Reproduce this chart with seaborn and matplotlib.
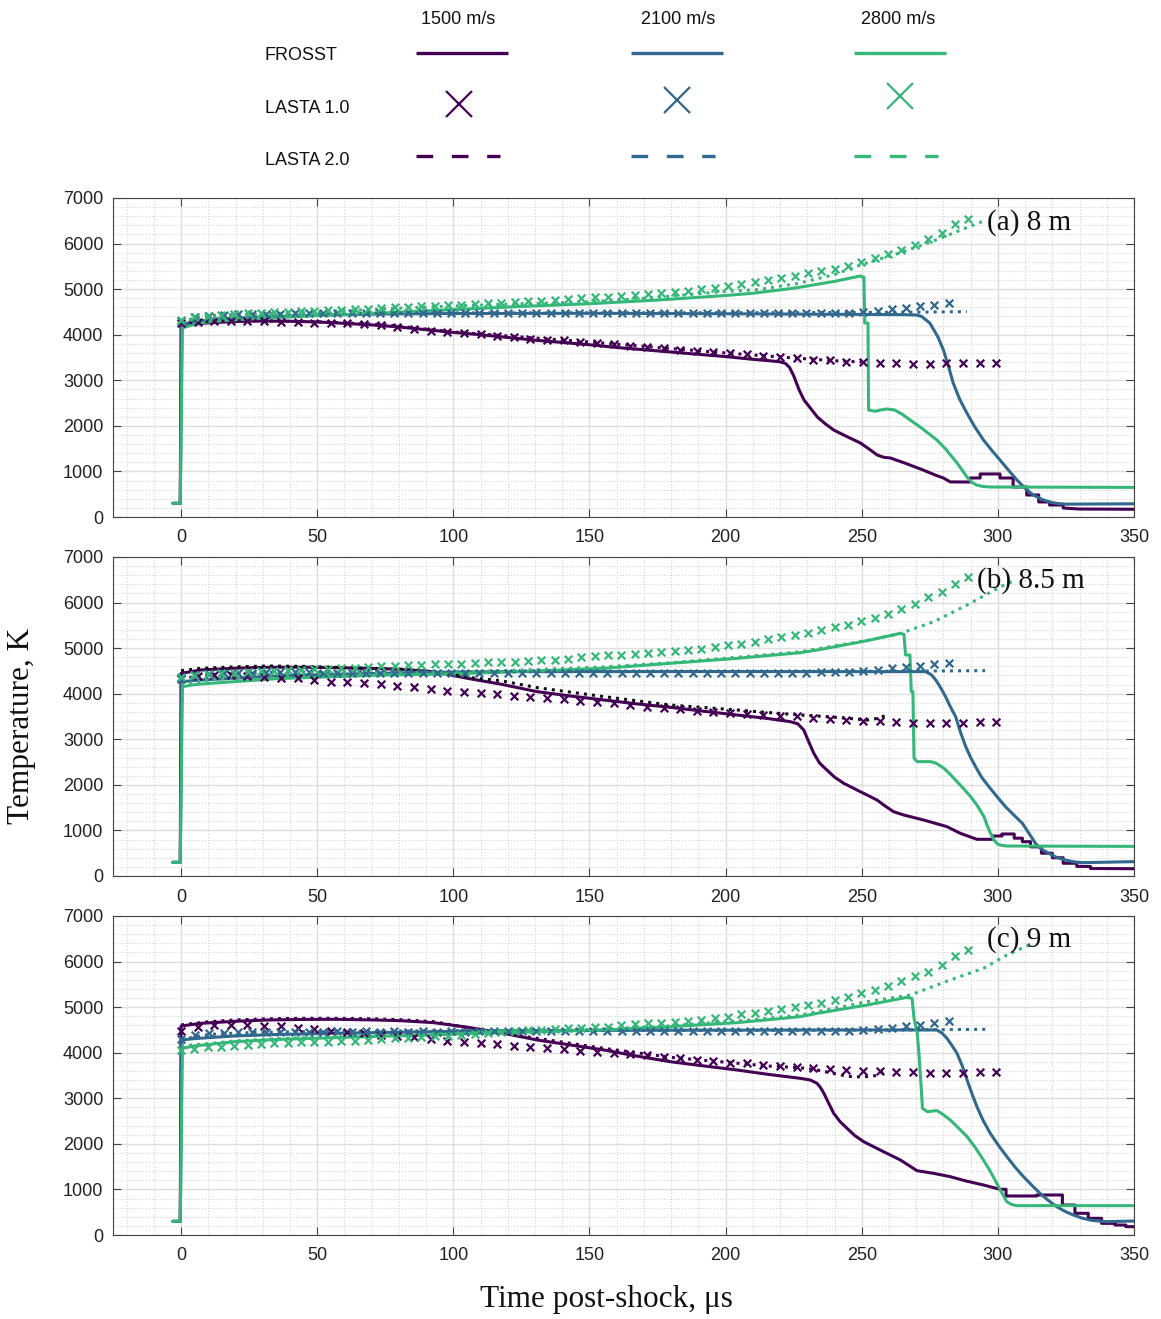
# Post-shock temperature histories: FROSST vs LASTA 1.0 / LASTA 2.0
import matplotlib
matplotlib.use("Agg")
import matplotlib.pyplot as plt
from matplotlib.ticker import MultipleLocator
import seaborn as sns

#================================#
# Data
#================================#
velocities = ['1500 m/s', '2100 m/s', '2800 m/s']
row_names = ['FROSST', 'LASTA 1.0', 'LASTA 2.0']
colors = ['#440154', '#31688e', '#35b779']
panel_labels = ['(a) 8 m', '(b) 8.5 m', '(c) 9 m']

# LASTA 1.0 sample times (us) for each velocity
l1_t_1500 = [0, 6.1, 12.2, 18.3, 24.4, 30.6, 36.7, 42.8, 48.9, 55.0,
             61.1, 67.2, 73.3, 79.4, 85.5, 91.7, 97.8, 103.9, 110.0, 116.1,
             122.2, 128.3, 134.4, 140.5, 146.6, 152.8, 158.9, 165.0, 171.1, 177.2,
             183.3, 189.4, 195.5, 201.6, 207.7, 213.9, 220.0, 226.1, 232.2, 238.3,
             244.4, 250.5, 256.6, 262.7, 268.8, 275.0, 281.1, 287.2, 293.3, 299.4]
l1_t_2100 = [0, 5.2, 10.4, 15.7, 20.9, 26.1, 31.3, 36.5, 41.8, 47.0,
             52.2, 57.4, 62.6, 67.9, 73.1, 78.3, 83.5, 88.7, 94.0, 99.2,
             104.4, 109.6, 114.8, 120.1, 125.3, 130.5, 135.7, 140.9, 146.2, 151.4,
             156.6, 161.8, 167.0, 172.3, 177.5, 182.7, 187.9, 193.1, 198.4, 203.6,
             208.8, 214.0, 219.2, 224.5, 229.7, 234.9, 240.1, 245.3, 250.6, 255.8,
             261.0, 266.2, 271.4, 276.7, 281.9]
l1_t_2800 = [0, 4.9, 9.8, 14.7, 19.6, 24.5, 29.4, 34.3, 39.2, 44.1,
             49.0, 53.9, 58.8, 63.7, 68.6, 73.5, 78.4, 83.3, 88.2, 93.1,
             98.0, 102.9, 107.8, 112.7, 117.6, 122.5, 127.4, 132.3, 137.2, 142.1,
             147.0, 151.9, 156.8, 161.7, 166.6, 171.5, 176.4, 181.3, 186.2, 191.1,
             196.0, 200.9, 205.8, 210.7, 215.6, 220.5, 225.4, 230.3, 235.2, 240.1,
             245.0, 249.9, 254.8, 259.7, 264.6, 269.5, 274.4, 279.3, 284.2, 289.1]

# ---------- (a) 8 m ----------
a_fr_1500_t = [-3, -0.3, 0, 5, 10, 20, 30, 40, 50, 60, 70, 80, 90, 100, 110, 120, 130, 140, 150, 160,
               170, 180, 190, 200, 210, 216, 220, 222, 223.5, 225, 227, 228.8, 231.2, 233.7, 236.7,
               239.7, 244.6, 249.5, 253.2, 255.7, 258.1, 260.5, 266, 272.6, 277, 280, 282.5,
               289.8, 289.8, 293.5, 293.5, 300.8, 300.8, 305.6, 305.6, 310.6, 310.6, 315, 315,
               319, 319, 324, 324, 330, 350]
a_fr_1500_T = [300, 300, 4200, 4230, 4260, 4290, 4300, 4295, 4280, 4250, 4215, 4170, 4110, 4050, 4000,
               3940, 3880, 3830, 3780, 3720, 3670, 3620, 3570, 3520, 3460, 3430, 3405, 3370, 3280,
               3100, 2790, 2567, 2385, 2195, 2041, 1909, 1763, 1624, 1470, 1360, 1310, 1295, 1180,
               1030, 920, 856, 770, 768, 856, 856, 944, 944, 856, 856, 658, 658, 483, 483, 330,
               330, 263, 263, 197, 175, 170]
a_fr_2100_t = [-3, -0.3, 0.3, 5, 10, 20, 30, 50, 75, 100, 150, 200, 250, 265, 270, 272, 275, 278,
               280, 282, 283.6, 286, 288.6, 291.5, 294.7, 297.8, 300.8, 304, 307, 310, 313, 316,
               319, 322, 325, 335, 350]
a_fr_2100_T = [300, 300, 4230, 4290, 4320, 4360, 4390, 4430, 4455, 4465, 4470, 4460, 4445, 4440,
               4433, 4400, 4257, 3950, 3665, 3280, 2940, 2580, 2282, 1980, 1690, 1460, 1250, 1020,
               812, 630, 483, 390, 329, 295, 282, 285, 290]
a_fr_2800_t = [-3, -0.3, 0.5, 5, 10, 20, 30, 50, 75, 100, 125, 150, 175, 200, 210, 225, 240, 249.4,
               250.8, 251.1, 252.3, 252.5, 255, 257, 259.2, 262, 265, 267.8, 272, 277.6, 281, 285,
               287, 288.6, 290.5, 292.2, 294.5, 297, 350]
a_fr_2800_T = [300, 300, 4150, 4230, 4280, 4330, 4360, 4420, 4480, 4550, 4620, 4680, 4760, 4860,
               4910, 5020, 5170, 5288, 5260, 4257, 4257, 2348, 2320, 2350, 2370, 2350, 2250, 2128,
               1950, 1690, 1480, 1185, 1020, 878, 760, 702, 670, 658, 650]
a_l1_1500 = [4250, 4280, 4295, 4300, 4300, 4295, 4286, 4280, 4265, 4260,
             4250, 4240, 4215, 4160, 4135, 4085, 4060, 4030, 4005, 3980,
             3955, 3910, 3885, 3880, 3850, 3825, 3795, 3755, 3725, 3700,
             3665, 3645, 3615, 3590, 3570, 3540, 3518, 3482, 3445, 3435,
             3408, 3405, 3386, 3372, 3357, 3350, 3370, 3372, 3385, 3386]
a_l1_2100 = [4300, 4380, 4420, 4430, 4445, 4450, 4460, 4465, 4468, 4470,
             4470, 4472, 4470, 4472, 4470, 4472, 4470, 4470, 4472, 4470,
             4470, 4472, 4470, 4470, 4472, 4470, 4470, 4470, 4472, 4470,
             4470, 4470, 4472, 4470, 4470, 4470, 4468, 4470, 4470, 4470,
             4470, 4470, 4472, 4470, 4475, 4478, 4480, 4485, 4500, 4530,
             4570, 4595, 4625, 4655, 4700]
a_l1_2800 = [4320, 4380, 4420, 4440, 4455, 4470, 4480, 4492, 4505, 4520,
             4530, 4542, 4550, 4560, 4570, 4590, 4600, 4610, 4620, 4635,
             4645, 4660, 4675, 4685, 4700, 4715, 4730, 4750, 4765, 4785,
             4805, 4820, 4835, 4850, 4870, 4885, 4905, 4935, 4960, 4995,
             5035, 5070, 5110, 5150, 5200, 5245, 5295, 5345, 5395, 5445,
             5510, 5600, 5680, 5770, 5860, 5960, 6100, 6240, 6420, 6550]
a_l2_1500_t = [0, 10, 20, 30, 50, 75, 100, 125, 150, 175, 200, 225, 240, 250]
a_l2_1500_T = [4250, 4290, 4305, 4305, 4285, 4220, 4060, 3950, 3840, 3720, 3600, 3490, 3430, 3400]
a_l2_2100_t = [0, 10, 20, 30, 50, 100, 150, 200, 250, 270, 288.6]
a_l2_2100_T = [4300, 4410, 4440, 4455, 4470, 4478, 4480, 4482, 4488, 4495, 4506]
a_l2_2800_t = [0, 10, 25, 50, 75, 100, 125, 150, 175, 200, 212, 227, 240, 250, 263.5, 275.7, 288, 294.2]
a_l2_2800_T = [4300, 4390, 4440, 4500, 4570, 4630, 4680, 4720, 4820, 4950, 4990, 5130, 5320, 5540,
               5786, 6041, 6335, 6481]

# ---------- (b) 8.5 m ----------
b_fr_1500_t = [-3, -0.3, 0, 7.3, 20, 31.8, 45, 56.2, 70, 80.7, 92.9, 105, 117.4, 130.8, 143, 155.3,
               167, 179.7, 192, 204.2, 215, 223.8, 226.5, 228.7, 230.5, 232.4, 234.5, 237.2, 240,
               243.4, 249.5, 255.6, 258.5, 261.7, 265.4, 272.7, 281.3, 286.2, 292.3, 298, 298,
               301.5, 301.5, 306, 306, 309, 309, 312, 312, 316, 316, 320, 320, 324, 324, 329, 329,
               334, 334, 350]
b_fr_1500_T = [300, 300, 4447, 4521, 4560, 4580, 4582, 4573, 4555, 4536, 4483, 4340, 4210, 4045,
               3950, 3862, 3780, 3701, 3615, 3533, 3460, 3386, 3340, 3204, 2950, 2693, 2480, 2326,
               2170, 2034, 1850, 1668, 1540, 1411, 1339, 1229, 1083, 937, 805, 805, 878, 878, 922,
               922, 830, 830, 753, 753, 640, 640, 500, 500, 400, 400, 280, 280, 210, 210, 165, 160]
b_fr_2100_t = [-3, -0.3, 0.3, 5, 10, 19.6, 35, 56.2, 75, 92.9, 117.4, 150, 200, 250, 273.5, 275.5,
               277.2, 279, 280.8, 282.5, 284.5, 286.3, 288.2, 290, 291.8, 294, 296.7, 299.7, 302.8,
               306, 309, 311.5, 313.8, 316, 318.7, 321.5, 324.8, 328, 331, 350]
b_fr_2100_T = [300, 300, 4264, 4290, 4310, 4338, 4390, 4426, 4450, 4470, 4484, 4486, 4486, 4484,
               4484, 4420, 4301, 4130, 3935, 3720, 3496, 3150, 2838, 2600, 2399, 2170, 1960, 1740,
               1521, 1330, 1156, 930, 717, 590, 498, 410, 351, 310, 293, 315]
b_fr_2800_t = [-3, -0.3, 0.5, 5, 10, 19.6, 35, 56.2, 75, 92.9, 117.4, 155.3, 179.7, 204.2, 227.4,
               233.7, 252, 264.3, 265.5, 266.1, 267.7, 268.2, 268.8, 269.2, 270.4, 275.3, 277.5,
               280.2, 282.5, 285, 287.5, 290, 292.5, 294.9, 296, 297.3, 298.5, 299.8, 301.5, 303.4, 350]
b_fr_2800_T = [300, 300, 4155, 4200, 4225, 4264, 4330, 4374, 4410, 4426, 4470, 4557, 4667, 4776,
               4900, 4959, 5164, 5325, 5300, 4850, 4850, 4045, 4045, 2583, 2509, 2509, 2470, 2363,
               2230, 2070, 1910, 1741, 1540, 1302, 1120, 937, 800, 702, 670, 658, 650]
b_l1_1500 = [4350, 4390, 4411, 4400, 4390, 4370, 4355, 4338, 4301, 4264,
             4255, 4242, 4206, 4177, 4140, 4104, 4060, 4038, 4015, 4000,
             3950, 3921, 3899, 3877, 3847, 3825, 3789, 3752, 3716, 3694,
             3657, 3628, 3606, 3570, 3548, 3540, 3520, 3515, 3460, 3438,
             3423, 3408, 3405, 3372, 3350, 3350, 3350, 3364, 3372, 3386]
b_l1_2100 = [4330, 4400, 4440, 4447, 4452, 4460, 4468, 4472, 4470, 4468,
             4465, 4465, 4462, 4465, 4462, 4465, 4462, 4465, 4462, 4465,
             4462, 4465, 4462, 4465, 4462, 4465, 4462, 4465, 4462, 4465,
             4462, 4465, 4462, 4465, 4462, 4465, 4462, 4465, 4462, 4465,
             4462, 4465, 4462, 4465, 4465, 4468, 4470, 4480, 4500, 4530,
             4555, 4590, 4605, 4645, 4680]
b_l1_2800 = [4370, 4410, 4435, 4447, 4465, 4480, 4495, 4506, 4515, 4525,
             4535, 4545, 4560, 4570, 4582, 4598, 4610, 4622, 4633, 4645,
             4655, 4662, 4670, 4685, 4700, 4703, 4712, 4730, 4745, 4765,
             4795, 4820, 4840, 4858, 4876, 4895, 4915, 4935, 4962, 4990,
             5030, 5060, 5085, 5140, 5190, 5238, 5280, 5340, 5398, 5455,
             5515, 5590, 5665, 5740, 5855, 5975, 6120, 6230, 6410, 6560]
b_l2_1500_t = [0, 7.3, 20, 31.8, 45, 56.2, 80.7, 95, 106.4, 117.4, 130.8, 155.3, 179.7, 204.2, 215,
               227.4, 233.7, 245, 252, 256, 259.3]
b_l2_1500_T = [4506, 4557, 4590, 4608, 4600, 4580, 4536, 4470, 4352, 4286, 4133, 3936, 3752, 3643,
               3590, 3533, 3511, 3460, 3423, 3460, 3533]
b_l2_2100_t = [0, 10, 20, 35, 60, 100, 150, 200, 250, 275, 295.3]
b_l2_2100_T = [4330, 4420, 4450, 4470, 4480, 4482, 4485, 4488, 4492, 4498, 4506]
b_l2_2800_t = [0, 10, 20, 40, 60, 80, 106.4, 130, 155.3, 180, 204.2, 227.4, 252, 264.3, 276.5,
               288.7, 301, 306]
b_l2_2800_T = [4200, 4300, 4350, 4400, 4430, 4455, 4484, 4530, 4590, 4680, 4800, 4920, 5170, 5325,
               5581, 5947, 6349, 6481]

# ---------- (c) 9 m ----------
c_fr_1500_t = [-3, -0.3, 0, 7.3, 20, 31.8, 45, 56.2, 70, 80.7, 92.9, 105.1, 117.4, 130.8, 143, 155.3,
               167, 179.7, 192, 204.2, 215, 227.4, 231.1, 233.6, 234.9, 236.1, 237.8, 239.7, 242,
               244.6, 247.5, 250.7, 258, 264.2, 270.3, 276.4, 282.5, 288, 294.7, 300.8, 303, 303,
               314.3, 314.3, 323.7, 323.7, 328.3, 328.3, 333.2, 333.2, 338.1, 338.1, 343, 343, 347,
               347, 350]
c_fr_1500_T = [300, 300, 4586, 4645, 4690, 4718, 4730, 4733, 4720, 4703, 4659, 4560, 4440, 4279,
               4170, 4060, 3930, 3803, 3710, 3621, 3530, 3438, 3401, 3328, 3230, 3109, 2900, 2671,
               2490, 2341, 2180, 2048, 1828, 1646, 1411, 1353, 1280, 1190, 1097, 1003, 1003, 856,
               856, 878, 878, 658, 658, 476, 476, 366, 366, 256, 256, 219, 219, 183, 183]
c_fr_2100_t = [-3, -0.3, 0.3, 5, 10, 19.6, 35, 56.2, 75, 92.9, 117.4, 150, 200, 250, 277.6, 279.5,
               281.3, 283, 285, 287, 288.7, 290.5, 292.3, 294.7, 297.2, 300.3, 303.3, 306.3, 309.4,
               312.5, 315.5, 318.5, 321.6, 324.6, 327.7, 330.7, 333.8, 337, 340, 350]
c_fr_2100_T = [300, 300, 4279, 4310, 4330, 4367, 4400, 4426, 4445, 4462, 4484, 4490, 4495, 4499,
               4499, 4430, 4316, 4170, 3987, 3700, 3401, 3100, 2816, 2500, 2232, 1960, 1719, 1490,
               1280, 1090, 914, 760, 622, 520, 439, 375, 329, 305, 293, 307]
c_fr_2800_t = [-3, -0.3, 0.5, 5, 10, 19.6, 35, 56.2, 75, 92.9, 106.4, 117.4, 155.3, 179.7, 204.2,
               215, 227.4, 233.7, 252, 266.7, 268.5, 269.2, 270.4, 271, 271.9, 272.3, 274.1, 277.6,
               280, 282.5, 285.5, 288.7, 291.7, 294.7, 297.2, 299.6, 301.5, 303.3, 305, 307, 350]
c_fr_2800_T = [300, 300, 4096, 4150, 4180, 4242, 4290, 4330, 4365, 4389, 4420, 4440, 4499, 4571,
               4659, 4720, 4791, 4865, 5047, 5216, 5190, 4755, 4426, 3987, 3182, 2780, 2706, 2730,
               2640, 2524, 2350, 2158, 1920, 1646, 1400, 1134, 920, 731, 670, 644, 644]
c_l1_1500 = [4480, 4560, 4608, 4600, 4608, 4595, 4586, 4550, 4513, 4477,
             4450, 4426, 4389, 4367, 4338, 4294, 4264, 4235, 4215, 4195,
             4147, 4118, 4110, 4074, 4045, 4023, 4001, 3972, 3950, 3913,
             3877, 3840, 3818, 3782, 3767, 3730, 3709, 3694, 3657, 3636,
             3621, 3606, 3600, 3584, 3570, 3548, 3548, 3560, 3584, 3584]
c_l1_2100 = [4300, 4380, 4426, 4440, 4448, 4455, 4460, 4462, 4465, 4465,
             4465, 4468, 4465, 4468, 4465, 4468, 4465, 4468, 4465, 4468,
             4465, 4468, 4470, 4468, 4470, 4468, 4470, 4468, 4470, 4470,
             4470, 4472, 4470, 4472, 4470, 4472, 4475, 4472, 4475, 4477,
             4475, 4477, 4475, 4477, 4478, 4480, 4482, 4485, 4500, 4528,
             4550, 4580, 4600, 4650, 4700]
c_l1_2800 = [4060, 4090, 4115, 4133, 4150, 4169, 4190, 4206, 4218, 4228,
             4235, 4242, 4255, 4268, 4282, 4300, 4316, 4330, 4345, 4358,
             4370, 4395, 4415, 4440, 4462, 4475, 4490, 4505, 4520, 4535,
             4550, 4562, 4575, 4600, 4630, 4645, 4655, 4670, 4695, 4720,
             4760, 4790, 4840, 4875, 4905, 4950, 5005, 5040, 5100, 5160,
             5215, 5300, 5380, 5470, 5580, 5675, 5770, 5935, 6130, 6250]
c_l2_1500_t = [0, 10, 20, 32, 45, 56, 70, 81, 93, 106.4, 130.8, 155.3, 179.7, 204.2, 215, 227.4,
               233.7, 240, 245, 250.7, 255.6, 258]
c_l2_1500_T = [4610, 4680, 4720, 4745, 4755, 4755, 4745, 4725, 4680, 4535, 4316, 4096, 3899, 3770,
               3710, 3670, 3620, 3540, 3480, 3467, 3500, 3584]
c_l2_2100_t = [0, 10, 20, 35, 60, 100, 150, 200, 250, 275, 296.5]
c_l2_2100_T = [4290, 4400, 4430, 4455, 4470, 4480, 4485, 4490, 4495, 4505, 4513]
c_l2_2800_t = [0, 10, 20, 35, 56, 75, 93, 117.4, 155.3, 179.7, 209, 227.4, 233.7, 252, 267.9, 282.5,
               294.7, 303.3, 311.5]
c_l2_2800_T = [4150, 4200, 4260, 4310, 4350, 4385, 4410, 4460, 4520, 4590, 4718, 4828, 4900, 5120,
               5267, 5596, 5852, 6144, 6364]

# Panel bundles (built from the named arrays above)
l1_times = [l1_t_1500, l1_t_2100, l1_t_2800]
panels = [
    dict(label=panel_labels[0], label_xy=(296, 6460),
         frosst=[(a_fr_1500_t, a_fr_1500_T), (a_fr_2100_t, a_fr_2100_T), (a_fr_2800_t, a_fr_2800_T)],
         lasta1=[a_l1_1500, a_l1_2100, a_l1_2800],
         lasta2=[(a_l2_1500_t, a_l2_1500_T), (a_l2_2100_t, a_l2_2100_T), (a_l2_2800_t, a_l2_2800_T)],
         l2_colors=colors),
    dict(label=panel_labels[1], label_xy=(292.5, 6480),
         frosst=[(b_fr_1500_t, b_fr_1500_T), (b_fr_2100_t, b_fr_2100_T), (b_fr_2800_t, b_fr_2800_T)],
         lasta1=[b_l1_1500, b_l1_2100, b_l1_2800],
         lasta2=[(b_l2_1500_t, b_l2_1500_T), (b_l2_2100_t, b_l2_2100_T), (b_l2_2800_t, b_l2_2800_T)],
         l2_colors=['#111111', colors[1], colors[2]]),
    dict(label=panel_labels[2], label_xy=(296, 6480),
         frosst=[(c_fr_1500_t, c_fr_1500_T), (c_fr_2100_t, c_fr_2100_T), (c_fr_2800_t, c_fr_2800_T)],
         lasta1=[c_l1_1500, c_l1_2100, c_l1_2800],
         lasta2=[(c_l2_1500_t, c_l2_1500_T), (c_l2_2100_t, c_l2_2100_T), (c_l2_2800_t, c_l2_2800_T)],
         l2_colors=colors),
]

#================================#
# Figure setup
#================================#
sns.set_theme(style="ticks")
plt.rcParams['font.family'] = ['Liberation Sans', 'DejaVu Sans']
serif = ['Liberation Serif', 'DejaVu Serif']

W, H = 1161, 1319
fig = plt.figure(figsize=(W / 100, H / 100), dpi=100)

# axes boxes in pixels: left, top, right, bottom
boxes = [(113, 198, 1134, 517), (113, 557, 1134, 876), (113, 916, 1134, 1235)]

for box, p in zip(boxes, panels):
    l, t, r, b = box
    ax = fig.add_axes([l / W, 1 - b / H, (r - l) / W, (b - t) / H])

    # LASTA 2.0 (dotted)
    for (tt, TT), c in zip(p['lasta2'], p['l2_colors']):
        sns.lineplot(x=tt, y=TT, ax=ax, color=c, linewidth=2.2, linestyle=':',
                     estimator=None, sort=False, zorder=3.5)
    # FROSST (solid)
    for (tt, TT), c in zip(p['frosst'], colors):
        sns.lineplot(x=tt, y=TT, ax=ax, color=c, linewidth=2.2,
                     estimator=None, sort=False, zorder=3)
    # LASTA 1.0 (crosses)
    for tt, TT, c in zip(l1_times, p['lasta1'], colors):
        sns.scatterplot(x=tt, y=TT, ax=ax, color=c, marker='x', s=30,
                        linewidth=1.6, zorder=4)

    ax.set_xlim(-25, 350)
    ax.set_ylim(0, 7000)
    ax.set_xticks(range(0, 351, 50))
    ax.set_yticks(range(0, 7001, 1000))
    ax.xaxis.set_minor_locator(MultipleLocator(10))
    ax.yaxis.set_minor_locator(MultipleLocator(200))
    ax.grid(which='major', color='#dedede', linewidth=1.0, zorder=0)
    ax.grid(which='minor', color='#d4d4d4', linewidth=0.8, linestyle=':', zorder=0)
    ax.set_axisbelow(True)
    ax.tick_params(axis='x', which='major', pad=9)
    ax.tick_params(axis='y', which='major', pad=7)
    ax.tick_params(which='major', direction='in', top=True, right=True, length=6,
                   width=0.8, color='#444444', labelsize=13, labelcolor='#222222')
    ax.tick_params(which='minor', length=0)
    for s in ax.spines.values():
        s.set_color('#444444')
        s.set_linewidth(0.8)
    ax.set_xlabel('')
    ax.set_ylabel('')

    ax.text(p['label_xy'][0], p['label_xy'][1], p['label'], family=serif, fontsize=21,
            va='center', ha='left', color='#111111', zorder=6)

# Axis titles
fig.text(22 / W, 1 - 726 / H, 'Temperature, K', rotation=90, ha='center', va='center',
         family=serif, fontsize=22.5, color='#111111')
fig.text(606 / W, 1 - 1299 / H, 'Time post-shock, μs', ha='center', va='center',
         family=serif, fontsize=22.5, color='#111111')

#================================#
# Table-style legend at the top
#================================#
lg = fig.add_axes([0, 0, 1, 1], zorder=10)
lg.set_xlim(0, W)
lg.set_ylim(H, 0)
lg.axis('off')

col_x = [458, 678, 898]
seg = [(416, 508), (631, 723), (854, 946)]
dash_x = [(416, 500), (631, 715), (854, 938)]
cross_xy = [(459, 104), (677, 100), (900, 96)]

for x, v in zip(col_x, velocities):
    lg.text(x, 20, v, ha='center', va='center', fontsize=13, color='#111111')
for y, name in zip([56, 108.5, 160.5], row_names):
    lg.text(265, y, name, ha='left', va='center', fontsize=13, color='#111111')
for (x0, x1), c in zip(seg, colors):
    lg.plot([x0, x1], [53, 53], color=c, linewidth=2.4, solid_capstyle='butt')
for (cx, cy), c in zip(cross_xy, colors):
    lg.plot([cx], [cy], marker='x', markersize=19, markeredgewidth=1.6, color=c, linestyle='none')
for (x0, x1), c in zip(dash_x, colors):
    lg.plot([x0, x1], [156, 156], color=c, linewidth=2.4, linestyle=(0, (5, 5.6)),
            dash_capstyle='butt')

plt.savefig('out.png', dpi=100)
